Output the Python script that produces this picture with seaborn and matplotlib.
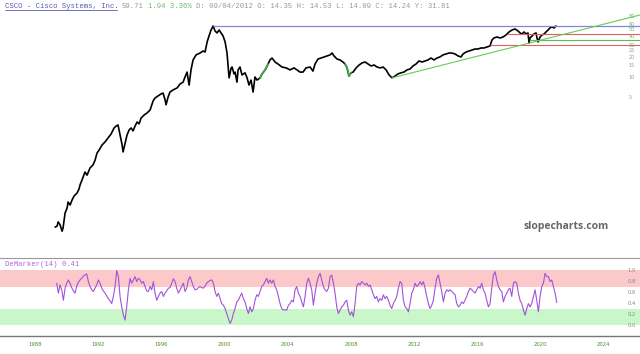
import matplotlib
matplotlib.use("Agg")
import matplotlib.pyplot as plt
from matplotlib.lines import Line2D
from matplotlib.ticker import NullLocator
import numpy as np
import pandas as pd
import seaborn as sns

# ---- price series (log scale) ----
price_years = [
    1989.27, 1989.39, 1989.46, 1989.58, 1989.71, 1989.77, 1989.90, 1990.03, 1990.09, 1990.22,
    1990.34, 1990.47, 1990.66, 1990.78, 1990.85, 1990.97, 1991.16, 1991.29, 1991.35, 1991.48,
    1991.67, 1991.80, 1991.92, 1992.05, 1992.24, 1992.43, 1992.62, 1992.81, 1993.00, 1993.13,
    1993.25, 1993.38, 1993.51, 1993.57, 1993.70, 1993.82, 1993.95, 1994.08, 1994.20, 1994.33,
    1994.46, 1994.58, 1994.71, 1994.90, 1995.09, 1995.28, 1995.47, 1995.59, 1995.78, 1995.97,
    1996.10, 1996.23, 1996.29, 1996.42, 1996.54, 1996.73, 1996.99, 1997.18, 1997.37, 1997.49,
    1997.62, 1997.75, 1997.87, 1998.00, 1998.19, 1998.44, 1998.63, 1998.76, 1998.89, 1999.01,
    1999.14, 1999.27, 1999.39, 1999.52, 1999.65, 1999.77, 1999.90, 2000.03, 2000.15, 2000.28,
    2000.41, 2000.47, 2000.59, 2000.66, 2000.78, 2000.85, 2000.97, 2001.10, 2001.29, 2001.42,
    2001.54, 2001.67, 2001.80, 2001.92, 2002.05, 2002.24, 2002.37, 2002.56, 2002.75, 2002.87,
    2003.00, 2003.19, 2003.38, 2003.63, 2003.89, 2004.14, 2004.39, 2004.58, 2004.77, 2004.96,
    2005.15, 2005.41, 2005.59, 2005.72, 2005.91, 2006.10, 2006.29, 2006.48, 2006.67, 2006.80,
    2006.92, 2007.11, 2007.30, 2007.49, 2007.62, 2007.75, 2007.87, 2008.00, 2008.13, 2008.32,
    2008.51, 2008.70, 2008.89, 2009.08, 2009.27, 2009.46, 2009.65, 2009.84, 2010.03, 2010.22,
    2010.41, 2010.59, 2010.78, 2010.97, 2011.16, 2011.35, 2011.54, 2011.73, 2011.92, 2012.11,
    2012.30, 2012.49, 2012.68, 2012.87, 2013.06, 2013.25, 2013.44, 2013.63, 2013.82, 2014.01,
    2014.20, 2014.39, 2014.58, 2014.77, 2014.96, 2015.09, 2015.28, 2015.47, 2015.66, 2015.85,
    2016.04, 2016.23, 2016.42, 2016.61, 2016.80, 2016.92, 2017.05, 2017.24, 2017.43, 2017.62,
    2017.81, 2018.00, 2018.19, 2018.38, 2018.57, 2018.70, 2018.82, 2018.95, 2019.08, 2019.20,
    2019.27, 2019.33, 2019.46, 2019.58, 2019.71, 2019.77, 2019.84, 2019.96, 2020.09, 2020.22,
    2020.34, 2020.47, 2020.59, 2020.72, 2020.85, 2020.97,
]
price_close = [
    0.062, 0.064, 0.074, 0.067, 0.054, 0.060, 0.100, 0.119, 0.145, 0.131,
    0.155, 0.178, 0.197, 0.225, 0.26, 0.305, 0.40, 0.36, 0.39, 0.46,
    0.51, 0.60, 0.76, 0.84, 1.0, 1.11, 1.27, 1.45, 1.78, 1.90,
    1.97, 1.40, 1.0, 0.79, 1.07, 1.40, 1.66, 1.78, 1.61, 1.90,
    2.18, 2.04, 2.49, 2.76, 2.96, 3.27, 4.44, 4.9, 5.26, 5.62,
    5.8, 4.6, 3.9, 5.08, 6.0, 6.44, 6.9, 7.9, 8.4, 10.0,
    11.8, 7.6, 12.7, 17.8, 21.1, 22.5, 24.1, 23.3, 32.7, 40.1,
    49.1, 56.2, 47.5, 44.4, 49.1, 44.4, 40.1, 32.7, 22.5, 9.7,
    13.6, 14.0, 11.1, 11.8, 8.4, 12.7, 14.0, 10.7, 11.5, 9.7,
    7.6, 9.0, 6.0, 10.0, 9.0, 9.7, 11.1, 12.7, 15.5, 17.8,
    19.0, 16.6, 15.5, 14.0, 13.6, 12.7, 13.6, 12.7, 11.8, 11.8,
    13.6, 14.0, 12.2, 15.5, 18.4, 19.0, 19.7, 20.4, 21.1, 22.5,
    20.4, 18.4, 17.8, 16.6, 15.5, 13.6, 10.3, 11.5, 11.8, 13.6,
    15.0, 16.1, 16.6, 15.5, 14.5, 15.0, 14.0, 13.6, 14.0, 12.7,
    10.7, 9.7, 10.3, 11.1, 11.5, 11.8, 12.7, 13.1, 14.5, 15.5,
    17.2, 16.6, 17.2, 17.8, 19.0, 17.8, 19.0, 19.7, 21.1, 21.8,
    22.5, 22.5, 21.8, 20.4, 19.7, 21.8, 23.3, 24.1, 24.9, 25.8,
    25.8, 26.7, 26.7, 27.6, 28.6, 35.0, 37.5, 38.7, 37.5, 38.7,
    41.5, 45.9, 49.1, 50.8, 47.5, 44.4, 42.9, 45.9, 42.9, 44.4,
    31.6, 37.5, 40.1, 42.9, 44.4, 37.5, 32.7, 38.7, 41.5, 42.9,
    45.9, 49.1, 52.6, 54.4, 52.6, 56.2,
]
green_spans = [(2002.2, 2002.8), (2007.6, 2008.0)]

# ---- drawn levels ----
peak_level, peak_year = 56.2, 1999.27
red_levels = [42.9, 29.6]
red_starts = [2017.9, 2016.8]
green_level, green_start = 34.4, 2019.33
trend_years = [2010.59, 2026.29]
trend_values = [9.7, 81.6]
price_ticks = [5, 10, 15, 20, 25, 30, 40, 50, 60, 80]

# ---- DeMarker(14), regular sampling between first and last date ----
dem_start, dem_end = 1989.37, 2021.02
dem_values = [
    0.76, 0.58, 0.73, 0.64, 0.45, 0.67, 0.76, 0.82, 0.76, 0.68,
    0.62, 0.58, 0.71, 0.78, 0.82, 0.85, 0.89, 0.91, 0.93, 0.79,
    0.70, 0.64, 0.61, 0.67, 0.73, 0.82, 0.76, 0.67, 0.62, 0.58,
    0.53, 0.48, 0.44, 0.39, 0.52, 0.70, 0.99, 0.88, 0.52, 0.33,
    0.18, 0.09, 0.33, 0.64, 0.85, 0.76, 0.82, 0.88, 0.79, 0.85,
    0.82, 0.76, 0.79, 0.70, 0.62, 0.61, 0.70, 0.64, 0.79, 0.58,
    0.45, 0.52, 0.58, 0.61, 0.52, 0.58, 0.62, 0.67, 0.68, 0.76,
    0.84, 0.79, 0.67, 0.58, 0.64, 0.70, 0.76, 0.61, 0.67, 0.82,
    0.88, 0.79, 0.70, 0.64, 0.65, 0.68, 0.70, 0.68, 0.67, 0.71,
    0.76, 0.79, 0.81, 0.82, 0.76, 0.61, 0.52, 0.58, 0.48, 0.39,
    0.36, 0.30, 0.21, 0.12, 0.03, 0.09, 0.21, 0.30, 0.42, 0.45,
    0.52, 0.58, 0.48, 0.42, 0.30, 0.21, 0.33, 0.24, 0.30, 0.45,
    0.55, 0.52, 0.61, 0.70, 0.73, 0.79, 0.85, 0.76, 0.82, 0.76,
    0.82, 0.70, 0.64, 0.52, 0.39, 0.30, 0.27, 0.28, 0.27, 0.36,
    0.39, 0.45, 0.42, 0.64, 0.70, 0.58, 0.52, 0.42, 0.33, 0.52,
    0.76, 0.85, 0.76, 0.64, 0.36, 0.58, 0.76, 0.88, 0.94,
    0.82, 0.70, 0.64, 0.61, 0.67, 0.88, 0.91, 0.76, 0.58, 0.33,
    0.21, 0.27, 0.33, 0.36, 0.42, 0.45, 0.27, 0.18, 0.24, 0.15,
    0.39, 0.70, 0.76, 0.73, 0.79, 0.76, 0.73, 0.76, 0.70, 0.73,
    0.64, 0.55, 0.48, 0.52, 0.42, 0.48, 0.45, 0.55, 0.48, 0.52,
    0.45, 0.36, 0.30, 0.39, 0.45, 0.52, 0.67, 0.79, 0.76, 0.45,
    0.33, 0.30, 0.24, 0.39, 0.58, 0.64, 0.76, 0.70, 0.73, 0.79,
    0.73, 0.79, 0.67, 0.52, 0.39, 0.30, 0.36, 0.45, 0.67, 0.85,
    0.91, 0.76, 0.61, 0.42, 0.58, 0.64, 0.61, 0.64, 0.61, 0.58,
    0.55, 0.39, 0.33, 0.36, 0.42, 0.39, 0.45, 0.52, 0.61, 0.67,
    0.64, 0.61, 0.58, 0.64, 0.70, 0.67, 0.76, 0.64, 0.58, 0.45,
    0.33, 0.39, 0.67, 0.91, 0.97, 0.82, 0.70, 0.64, 0.61, 0.42,
    0.52, 0.58, 0.64, 0.67, 0.52, 0.76, 0.79, 0.76, 0.58, 0.45,
    0.39, 0.27, 0.18, 0.30, 0.39, 0.33, 0.39, 0.52, 0.64, 0.45,
    0.24, 0.52, 0.70, 0.76, 0.94, 0.88, 0.88, 0.79, 0.82, 0.70,
    0.58, 0.41,
]
dem_ticks = [0.0, 0.2, 0.4, 0.6, 0.8, 1.0]
year_ticks = list(range(1988, 2025, 4))

X_MIN, X_MAX = 1985.78, 2026.29
MONO = "Liberation Mono"

sns.set_style("white")
plt.rcParams["font.family"] = ["DejaVu Sans"]

fig = plt.figure(figsize=(6.4, 3.54), dpi=100)
ax = fig.add_axes([0, 0.2768, 1, 0.7232])
ax2 = fig.add_axes([0, 0.0508, 1, 0.2203])

# ---- price panel ----
df = pd.DataFrame({"year": price_years, "close": price_close})
sns.lineplot(data=df, x="year", y="close", ax=ax, color="black",
             linewidth=1.2, estimator=None, sort=False)
for lo, hi in green_spans:
    part = df[(df["year"] >= lo) & (df["year"] <= hi)]
    sns.lineplot(data=part, x="year", y="close", ax=ax, color="#3fae3f",
                 linewidth=1.2, estimator=None, sort=False)

ax.set_yscale("log")
ax.set_xlim(X_MIN, X_MAX)
ax.set_ylim(0.0233, 135.5)

ax.hlines(peak_level, peak_year, X_MAX, color="#8585dd", linewidth=0.9)
for lvl, start in zip(red_levels, red_starts):
    ax.hlines(lvl, start, X_MAX, color="#e06060", linewidth=0.8)
ax.hlines(green_level, green_start, X_MAX, color="#55c055", linewidth=0.8)
sns.lineplot(x=trend_years, y=trend_values, ax=ax, color="#66cc55", linewidth=0.8)

ax.yaxis.tick_right()
ax.yaxis.set_minor_locator(NullLocator())
ax.set_yticks(price_ticks)
ax.set_yticklabels([str(t) for t in price_ticks])
ax.tick_params(axis="y", length=0, pad=-8, labelsize=3.5)
for t, lab in zip(price_ticks, ax.get_yticklabels()):
    lab.set_color("#66b866" if t >= 30 else "#999999")
ax.set_xticks([])
ax.set_xlabel("")
ax.set_ylabel("")
for s in ax.spines.values():
    s.set_visible(False)

# ---- DeMarker panel ----
dem_dates = np.linspace(dem_start, dem_end, len(dem_values))
ax2.axhspan(0.7, 1.0, color="#fbc9c9", linewidth=0, zorder=0)
ax2.axhspan(0.0, 0.3, color="#c9f7c9", linewidth=0, zorder=0)
sns.lineplot(x=dem_dates, y=dem_values, ax=ax2, color="#a352d9", linewidth=0.8)
ax2.set_xlim(X_MIN, X_MAX)
ax2.set_ylim(-0.2, 1.218)
ax2.yaxis.tick_right()
ax2.set_yticks(dem_ticks)
ax2.set_yticklabels([f"{t:.1f}" for t in dem_ticks])
ax2.tick_params(axis="y", length=0, pad=-9, labelsize=3.8, labelcolor="#888888")
ax2.set_xticks(year_ticks)
ax2.set_xticklabels([str(y) for y in year_ticks])
ax2.tick_params(axis="x", length=0, pad=4, labelsize=3.8, labelcolor="#4f8a3a")
ax2.spines["left"].set_visible(False)
ax2.spines["right"].set_visible(False)
ax2.spines["top"].set_color("#999999")
ax2.spines["top"].set_linewidth(0.8)
ax2.spines["bottom"].set_color("#777777")
ax2.spines["bottom"].set_linewidth(1.0)
ax2.set_xlabel("")
ax2.set_ylabel("")

# ---- header texts (monospace, 4.33 px per character) ----
ty = 1 - 6 / 354
fig.text(5 / 640, ty, "CSCO - Cisco Systems, Inc.", family=MONO, size=5.2,
         color="#5a5ab5", va="center")
fig.text(122 / 640, ty, "59.71", family=MONO, size=5.2,
         color="#9a9a9a", va="center")
fig.text(148 / 640, ty, "1.94 3.36%", family=MONO, size=5.2,
         color="#6fba6f", va="center")
fig.text(196 / 640, ty, "D: 09/04/2012 O: 14.35 H: 14.53 L: 14.09 C: 14.24 Y: 31.81",
         family=MONO, size=5.2, color="#9a9a9a", va="center")
fig.add_artist(Line2D([5 / 640, 117 / 640], [1 - 10 / 354] * 2,
                      color="#5a5ab5", linewidth=0.6))

fig.text(5 / 640, 1 - 264 / 354, "DeMarker(14) 0.41", family=MONO, size=5.2,
         color="#b063e0", va="center")

fig.text(566 / 640, 1 - 227 / 354, "slopecharts.com", ha="center", va="center",
         fontsize=7.5, fontweight="bold", color="#666666", family="Open Sans")

fig.savefig("out.png", dpi=100)
plt.close(fig)
